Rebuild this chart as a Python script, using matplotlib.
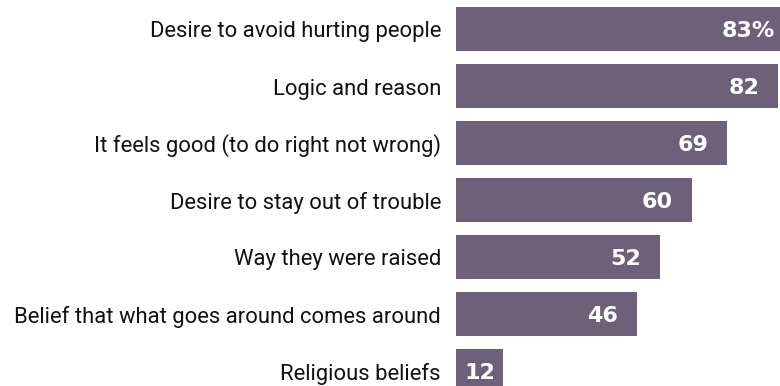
import matplotlib.pyplot as plt
from matplotlib.transforms import offset_copy

labels = [
    "Desire to avoid hurting people",
    "Logic and reason",
    "It feels good (to do right not wrong)",
    "Desire to stay out of trouble",
    "Way they were raised",
    "Belief that what goes around comes around",
    "Religious beliefs",
]
values = [83, 82, 69, 60, 52, 46, 12]
value_text = ["83%", "82", "69", "60", "52", "46", "12"]

BAR = "#6e6079"
W, H = 780, 386

fig = plt.figure(figsize=(W / 100, H / 100), dpi=100)
# axes placed in pixels: bars start at x=456, one unit is ~3.93 px
x0 = 456
ax = fig.add_axes([x0 / W, 0, 1 - x0 / W, 1])
ax.set_xlim(0, (W - x0) / 3.93)
pitch = 57
top = 29
ax.set_ylim((H - top) / pitch, -top / pitch)

ys = list(range(len(values)))
ax.barh(ys, values, height=44 / pitch, color=BAR)

for y, lab in zip(ys, labels):
    tr = offset_copy(ax.transData, fig=fig, x=-15, y=-3, units="dots")
    ax.text(0, y, lab, transform=tr, ha="right", va="center",
            fontsize=15.8, family="Roboto", color="#111111", clip_on=False)

for y, v, t in zip(ys, values, value_text):
    if v < 20:
        tr = offset_copy(ax.transData, fig=fig, x=0, y=-2, units="dots")
        ax.text(v / 2, y, t, transform=tr, ha="center", va="center",
                fontsize=16, family="DejaVu Sans", weight="bold", color="white")
    else:
        dx = -19 if "%" not in t else -7
        tr = offset_copy(ax.transData, fig=fig, x=dx, y=-2, units="dots")
        ax.text(v, y, t, transform=tr, ha="right", va="center", fontsize=16,
                family="DejaVu Sans", weight="bold", color="white", clip_on=False)

ax.axis("off")
fig.savefig("out.png", dpi=100)
